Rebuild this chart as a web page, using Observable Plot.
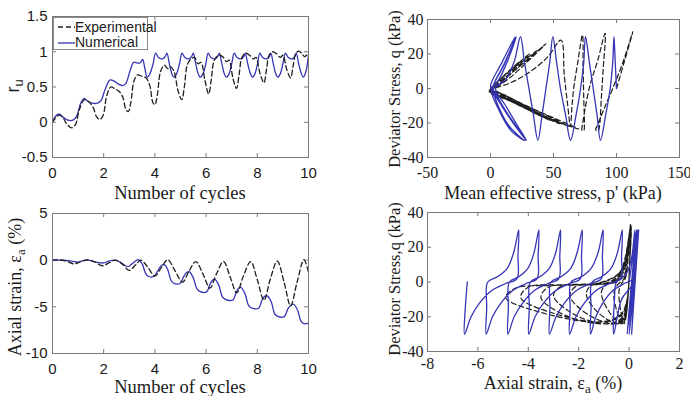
<!DOCTYPE html>
<html><head><meta charset="utf-8">
<script src="https://cdn.jsdelivr.net/npm/d3@7"></script>
<script src="https://cdn.jsdelivr.net/npm/@observablehq/plot@0.6"></script>
<style>
body{margin:0;background:#fff;}
#wrap{position:relative;width:690px;height:396px;overflow:hidden;background:#fff;}
.p{position:absolute;}
.lab{position:absolute;white-space:nowrap;line-height:1;color:#1a1a1a;}
.serif{font-family:"Liberation Serif","Times New Roman",serif;}
.sans{font-family:"Liberation Sans",Arial,sans-serif;}
.sb{font-size:0.72em;vertical-align:-0.38em;}
</style></head><body><div id="wrap"></div>
<script>
// ---------- data ----------
const cycleTicks = [0, 2, 4, 6, 8, 10];
const ruTicks = [-0.5, 0, 0.5, 1, 1.5];
const strainTicks = [-10, -5, 0, 5];
const pTicks = [-50, 0, 50, 100, 150];
const qTicks = [-40, -20, 0, 20, 40];
const epsTicks = [-8, -6, -4, -2, 0, 2];

// r_u vs cycles (experimental)
const ruExp = [[0,0],[0.12,0.06],[0.25,0.1],[0.4,0.07],[0.55,-0.02],[0.75,-0.08],[0.9,-0.03],[1.05,0.18],[1.25,0.32],[1.45,0.28],[1.6,0.2],[1.72,0.08],[1.85,0.04],[1.98,0.1],[2.12,0.38],[2.28,0.5],[2.45,0.47],[2.6,0.44],[2.75,0.35],[2.87,0.18],[2.96,0.15],[3.06,0.28],[3.18,0.58],[3.32,0.67],[3.5,0.65],[3.65,0.63],[3.8,0.52],[3.92,0.28],[4.0,0.25],[4.1,0.4],[4.22,0.72],[4.37,0.81],[4.5,0.76],[4.6,0.79],[4.75,0.72],[4.9,0.45],[5.05,0.32],[5.15,0.5],[5.27,0.82],[5.42,0.9],[5.55,0.92],[5.68,0.83],[5.8,0.85],[5.95,0.6],[6.1,0.4],[6.2,0.6],[6.32,0.88],[6.5,0.95],[6.65,0.93],[6.8,0.86],[6.9,0.88],[7.05,0.62],[7.19,0.48],[7.29,0.68],[7.4,0.92],[7.55,0.98],[7.7,0.95],[7.85,0.9],[7.95,0.92],[8.1,0.7],[8.26,0.56],[8.36,0.75],[8.46,0.95],[8.6,1.0],[8.75,0.97],[8.9,0.92],[9.0,0.95],[9.15,0.75],[9.3,0.63],[9.4,0.8],[9.5,0.97],[9.62,1.01],[9.75,0.97],[9.85,0.93],[10,0.99]];
// r_u vs cycles (numerical)
const ruNum = [[0,0],[0.1,0.08],[0.25,0.12],[0.42,0.07],[0.6,0.03],[0.8,0.03],[0.95,0.09],[1.1,0.27],[1.24,0.34],[1.4,0.29],[1.55,0.27],[1.75,0.27],[1.9,0.31],[2.05,0.46],[2.25,0.6],[2.42,0.58],[2.58,0.54],[2.75,0.52],[2.88,0.56],[3.02,0.72],[3.17,0.85],[3.32,0.84],[3.42,0.84],[3.52,0.89],[3.6,0.78],[3.7,0.64],[3.82,0.7],[3.93,0.83],[4.03,0.98],[4.14,0.92],[4.3,0.9],[4.4,0.93],[4.47,0.98],[4.56,0.84],[4.65,0.7],[4.74,0.64],[4.85,0.69],[4.96,0.83],[5.06,0.98],[5.17,0.92],[5.33,0.9],[5.43,0.93],[5.5,0.98],[5.59,0.84],[5.68,0.7],[5.77,0.64],[5.88,0.69],[5.99,0.83],[6.08,0.98],[6.19,0.92],[6.35,0.9],[6.45,0.93],[6.52,0.98],[6.61,0.84],[6.7,0.7],[6.79,0.64],[6.9,0.69],[7.0,0.83],[7.1,0.98],[7.21,0.92],[7.37,0.9],[7.47,0.93],[7.53,0.98],[7.62,0.84],[7.72,0.7],[7.81,0.64],[7.91,0.69],[8.01,0.83],[8.1,0.98],[8.21,0.92],[8.37,0.9],[8.47,0.93],[8.53,0.98],[8.62,0.84],[8.71,0.7],[8.8,0.64],[8.9,0.69],[9.0,0.83],[9.1,0.98],[9.21,0.92],[9.37,0.9],[9.46,0.93],[9.52,0.98],[9.61,0.84],[9.71,0.7],[9.8,0.64],[9.9,0.72],[10,0.96]];

// axial strain (%) vs cycles
const epsExp = [[0,0],[0.3,0.02],[0.55,-0.12],[0.85,-0.4],[1.1,-0.15],[1.35,0.02],[1.62,-0.15],[1.95,-0.6],[2.2,-0.3],[2.45,0.0],[2.72,-0.4],[3.0,-1.1],[3.25,-0.5],[3.45,0.0],[3.72,-0.75],[4.0,-1.7],[4.25,-0.8],[4.5,0.05],[4.78,-1.1],[5.08,-2.35],[5.33,-1.2],[5.6,-0.15],[5.88,-1.5],[6.15,-3.0],[6.4,-1.5],[6.68,-0.15],[6.94,-1.8],[7.2,-3.5],[7.45,-1.75],[7.74,-0.15],[8.0,-2.1],[8.26,-4.3],[8.5,-2.1],[8.78,-0.1],[9.05,-2.4],[9.3,-4.9],[9.55,-2.4],[9.82,0.05],[10,-1.3]];
const epsNum = [[0,0],[0.4,0.0],[0.75,-0.1],[1.0,-0.2],[1.2,-0.05],[1.4,0.0],[1.7,-0.2],[2.0,-0.3],[2.2,-0.1],[2.45,0.0],[2.7,-0.3],[2.95,-0.7],[3.1,-0.4],[3.35,0.05],[3.5,-0.4],[3.62,-1.3],[3.72,-1.7],[3.95,-1.75],[4.1,-1.2],[4.25,-0.6],[4.38,-0.5],[4.5,-1.0],[4.62,-2.1],[4.72,-2.45],[4.98,-2.5],[5.12,-1.8],[5.25,-1.3],[5.35,-1.25],[5.5,-1.9],[5.63,-3.0],[5.75,-3.35],[6.02,-3.4],[6.15,-2.6],[6.27,-2.1],[6.35,-2.05],[6.5,-2.7],[6.63,-3.9],[6.75,-4.2],[7.05,-4.25],[7.18,-3.4],[7.3,-2.95],[7.38,-2.95],[7.52,-3.6],[7.65,-4.8],[7.76,-5.1],[8.05,-5.15],[8.18,-4.3],[8.3,-3.85],[8.4,-3.85],[8.55,-4.5],[8.67,-5.7],[8.78,-6.0],[9.05,-6.05],[9.2,-5.2],[9.34,-4.75],[9.43,-4.75],[9.58,-5.4],[9.7,-6.5],[9.82,-6.8],[10,-6.75]];

// stress path: q (kPa) vs p' (kPa)
const pathExp = [[100,0],[106,15],[113,33],
[105,15],[97,0],[90,-12],[85,-21],[83.5,-24],[85.5,-24.5],[86.5,-22],[88,-5],[89.5,12],[91,32],
[85,16],[79,2],[75,-12],[73,-21],[72.5,-24],[74,-24.5],[74.5,-22],[74,-5],[73.5,12],[73,31],
[69,14],[66,0],[64.5,-12],[63.5,-22],[61,-8],[58.5,8],[56,28],
[45,18],[30,9],[15,3],[3,0],[0,-1.5],[20,-8],[45,-17],[70,-23.5],[50,-17],[25,-9],[5,-2],[-1,-1.5],[20,-8],[40,-15],[62,-22],[40,-14],[20,-7],[3,-1],[0,0],
[15,8],[30,17],[44,26],[30,16],[15,6],[3,0],[-1,-1],[18,-8],[35,-14],[55,-20.5],[35,-13],[12,-4],[1,-0.5],
[15,10],[26,16],[37,22],[20,11],[6,2],[0,-1.5],[15,-7],[30,-12.5],[47,-18.5],[25,-10],[8,-3],[0,-1],
[12,8],[31,20],[15,8],[2,0],[-1,-2],[18,-8],[40,-16],[20,-8],[1,-1],[10,7],[24,16],[10,5],[0,-2],[15,-7],[33,-13],[15,-6],[-1,-1]];
const pathNum = [[100,0],[99,15],[98,30],[97,15],[95,0],[91.5,-15],[87.3,-30],[84.5,-15],[81.5,0],[78.5,15],[75.4,30],[74,15],[71.5,0],[68,-15],[63.5,-30],[59.5,-15],[55.5,0],[52.5,15],[49.5,30],[47,15],[44,0],[41,-15],[37.6,-30],[34,-15],[30.5,0],[27,15],[23.8,30],[19,16],[12,5],[4,0],[12,-10],[21,-21],[28.6,-30],[18,-20],[8,-9],[2,0],[10,13],[20.4,30],[13,15],[4,2],[0.5,0],[7,-13],[17,-25],[27.5,-30],[13,-14],[3,-2],[0,1],[9,15],[19.5,30],[11,14],[2,1],[3,-4],[14,-21],[26.5,-30]];

// q (kPa) vs axial strain (%)
const qEpsNum = [[0,0],[0.15,15],[0.3,30],[0.22,0],[0.1,-30],[0.24,0],[0.38,30],[0.22,0],[0.0,-30],[0.17,0],[0.33,30],[0.15,0],[-0.08,-30],[0.1,0],[0.3,30],[0.27,10],[0.1,-2],[-0.3,-10],[-0.61,-30],[-0.58,-10],[-0.5,0],[-0.1,5],[0.1,14],[0.23,30],
[0.2,15],[0.17,2],[-0.21,-1],[-0.65,-5],[-1.04,-12],[-1.32,-20],[-1.53,-30],[-1.51,-15],[-1.47,0],[-1.09,3],[-0.71,8],[-0.46,17],[-0.27,30],
[-0.3,15],[-0.34,2],[-0.79,-1],[-1.32,-5],[-1.77,-12],[-2.11,-20],[-2.36,-30],[-2.34,-15],[-2.3,0],[-1.89,3],[-1.5,8],[-1.23,17],[-1.03,30],
[-1.06,15],[-1.1,2],[-1.56,-1],[-2.1,-5],[-2.56,-12],[-2.9,-20],[-3.16,-30],[-3.14,-15],[-3.1,0],[-2.7,3],[-2.31,8],[-2.06,17],[-1.86,30],
[-1.89,15],[-1.93,2],[-2.39,-1],[-2.92,-5],[-3.39,-12],[-3.73,-20],[-3.98,-30],[-3.96,-15],[-3.92,0],[-3.54,3],[-3.16,8],[-2.91,17],[-2.72,30],
[-2.75,15],[-2.79,2],[-3.24,-1],[-3.77,-5],[-4.22,-12],[-4.56,-20],[-4.81,-30],[-4.79,-15],[-4.75,0],[-4.38,3],[-4.01,8],[-3.77,17],[-3.58,30],
[-3.61,15],[-3.65,2],[-4.1,-1],[-4.63,-5],[-5.08,-12],[-5.42,-20],[-5.67,-30],[-5.65,-15],[-5.61,0],[-5.22,3],[-4.83,8],[-4.58,17],[-4.38,30],
[-4.41,15],[-4.45,2],[-4.92,-1],[-5.46,-5],[-5.93,-12],[-6.27,-20],[-6.53,-30],[-6.5,-15],[-6.42,0]];
const qEpsExp = [[0,0],[0.03,18],[0.05,32],
[0.02,10],[-0.05,-10],[-0.12,-20],[-0.2,-24],[-0.35,-15],[-0.4,-5],[-0.3,-1],[-0.15,2],[-0.03,15],[0.05,32],
[0.02,10],[-0.05,-10],[-0.13,-20],[-0.25,-24],[-0.5,-16],[-0.6,-6],[-0.45,-1.5],[-0.2,2],[-0.05,15],[0.05,32],
[0.02,10],[-0.05,-10],[-0.15,-20],[-0.3,-24],[-0.8,-17],[-1.1,-6],[-0.9,-1.5],[-0.5,0],[-0.2,4],[-0.05,15],[0.05,33],
[0.02,10],[-0.06,-10],[-0.18,-20],[-0.4,-24],[-1.2,-18],[-1.7,-7],[-1.5,-2],[-0.9,-1],[-0.4,2],[-0.12,10],[0.05,32],
[0.02,10],[-0.06,-10],[-0.2,-20],[-0.5,-24],[-1.6,-19],[-2.35,-8],[-2.1,-2.5],[-1.3,-1.5],[-0.6,0],[-0.2,8],[0.06,33],
[0.02,10],[-0.07,-10],[-0.22,-20],[-0.6,-24],[-2.0,-20],[-3.0,-8],[-2.7,-2.5],[-1.6,-1.5],[-0.7,0],[-0.25,7],[0.06,32],
[0.02,10],[-0.07,-10],[-0.25,-20],[-0.8,-24],[-2.4,-20],[-3.5,-9],[-3.2,-3],[-2.0,-1.5],[-0.8,0],[-0.3,6],[0.07,33],
[0.02,10],[-0.08,-10],[-0.3,-19],[-1.0,-23],[-3.0,-18],[-4.3,-9],[-4.0,-3],[-2.5,-1.5],[-1.0,0],[-0.35,6],[0.07,32],
[0.02,10],[-0.08,-10],[-0.35,-19],[-1.2,-23],[-3.5,-17.5],[-4.9,-9],[-4.5,-3.5],[-3.0,-2],[-1.2,-0.5],[-0.4,5],[-0.1,14]];

// ---------- drawing ----------
const AX = "#7a7a7a", BLUE = "#3535b5", BLACK = "#1e1e1e";
const SANS = "Liberation Sans, Arial, sans-serif", SERIF = "Liberation Serif, Times New Roman, serif";
const wrap = document.getElementById("wrap");

function panel(o) {
  const fh = o.height - o.mt - o.mb, fw = o.width - o.ml - o.mr, tk = 4;
  const fmt = d => String(d);
  const txt = {fontSize: o.fs, fontFamily: o.ff, fill: "#1a1a1a"};
  const marks = [
    Plot.tickX(o.xt, {x: d => d, insetTop: fh - tk, stroke: AX}),
    Plot.tickX(o.xt, {x: d => d, insetBottom: fh - tk, stroke: AX}),
    Plot.tickY(o.yt, {y: d => d, insetRight: fw - tk, stroke: AX}),
    Plot.tickY(o.yt, {y: d => d, insetLeft: fw - tk, stroke: AX}),
    Plot.axisX(o.xt, {tickSize: 0, tickPadding: o.xpad, tickFormat: fmt, label: null, ...txt}),
    Plot.axisY(o.yt, {tickSize: 0, tickPadding: o.ypad, tickFormat: fmt, label: null, ...txt}),
    ...o.series.map(s => Plot.line(s.data, {x: d => d[0], y: d => d[1], stroke: s.color, strokeWidth: s.w ?? 1.3,
      strokeDasharray: s.dash, curve: s.curve ?? "catmull-rom"})),
    Plot.frame({stroke: AX})
  ];
  const svg = Plot.plot({width: o.width, height: o.height, marginLeft: o.ml, marginRight: o.mr,
    marginTop: o.mt, marginBottom: o.mb, x: {domain: o.xd}, y: {domain: o.yd}, marks,
    style: {background: "transparent", overflow: "visible"}});
  svg.classList.add("p");
  svg.style.left = o.left + "px"; svg.style.top = o.top + "px";
  wrap.appendChild(svg);
}

function label(html, cx, cy, cls, size, rot) {
  const d = document.createElement("div");
  d.className = "lab " + cls;
  d.innerHTML = html;
  d.style.fontSize = size + "px";
  d.style.left = cx + "px"; d.style.top = cy + "px";
  d.style.transform = "translate(-50%,-50%)" + (rot ? " rotate(-90deg)" : "");
  wrap.appendChild(d);
}

panel({left: 0, top: 0, width: 345, height: 200, ml: 52, mr: 37, mt: 16, mb: 43,
  xd: [0, 10], yd: [-0.5, 1.5], xt: cycleTicks, yt: ruTicks, fs: 15, ff: SANS, xpad: 10, ypad: 5,
  series: [{data: ruNum, color: BLUE}, {data: ruExp, color: BLACK, dash: "5,3"}]});
panel({left: 345, top: 0, width: 345, height: 200, ml: 82, mr: 11, mt: 19, mb: 43,
  xd: [-50, 150], yd: [-40, 40], xt: pTicks, yt: qTicks, fs: 16, ff: SERIF, xpad: 9, ypad: 4,
  series: [{data: pathExp, color: BLACK, dash: "5,3", w: 1.2}, {data: pathNum, color: BLUE}]});
panel({left: 0, top: 196, width: 345, height: 200, ml: 52, mr: 37, mt: 17, mb: 43,
  xd: [0, 10], yd: [-10, 5], xt: cycleTicks, yt: strainTicks, fs: 15, ff: SANS, xpad: 10, ypad: 5,
  series: [{data: epsNum, color: BLUE}, {data: epsExp, color: BLACK, dash: "5,3"}]});
panel({left: 345, top: 196, width: 345, height: 200, ml: 82, mr: 11, mt: 16, mb: 45,
  xd: [-8, 2], yd: [-40, 40], xt: epsTicks, yt: qTicks, fs: 16, ff: SERIF, xpad: 6, ypad: 4,
  series: [{data: qEpsExp, color: BLACK, dash: "5,3", w: 1.2}, {data: qEpsNum, color: BLUE}]});

// axis titles
label("r<span class='sb'>u</span>", 15, 86, "sans", 18, true);
label("Number of cycles", 180, 193, "serif", 18.5, false);
label("Mean effective stress, p' (kPa)", 553, 193, "serif", 18, false);
label("Deviator Stress, q (kPa)", 395, 89, "serif", 16.5, true);
label("Axial strain, &epsilon;<span class='sb'>a</span> (%)", 17, 287, "serif", 18, true);
label("Number of cycles", 180, 387, "serif", 18.5, false);
label("Axial strain, &epsilon;<span class='sb'>a</span> (%)", 553, 385, "serif", 18, false);
label("Deviator Stress,q (kPa)", 395, 279, "serif", 16.5, true);

// legend
const lg = document.createElement("div");
lg.style.cssText = "position:absolute;left:53px;top:17px;width:95px;height:33px;background:#fff;border:1px solid #8a8a8a;box-sizing:border-box;font-family:'Liberation Sans',Arial,sans-serif;font-size:14px;color:#1a1a1a;";
lg.innerHTML = `<svg width="20" height="31" style="position:absolute;left:3px;top:0">
<line x1="1" y1="9" x2="18" y2="9" stroke="${BLACK}" stroke-width="1.3" stroke-dasharray="5,3"/>
<line x1="1" y1="25" x2="18" y2="25" stroke="${BLUE}" stroke-width="1.3"/></svg>
<div style="position:absolute;left:21px;top:1px;line-height:16px">Experimental</div>
<div style="position:absolute;left:21px;top:17px;line-height:14px">Numerical</div>`;
wrap.appendChild(lg);
</script></body></html>
